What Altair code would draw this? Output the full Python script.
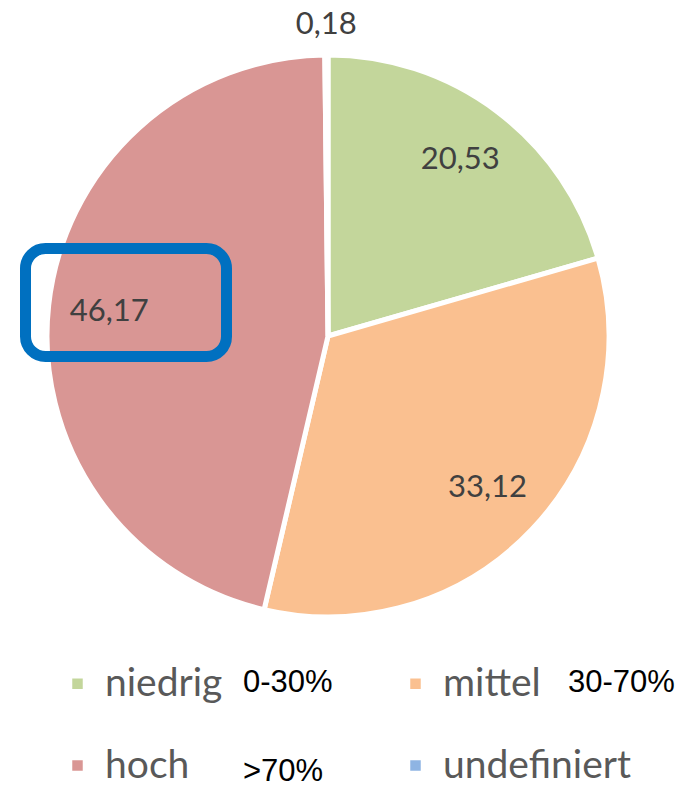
import altair as alt
import pandas as pd

categories = ["niedrig", "mittel", "hoch", "undefiniert"]
values = [20.53, 33.12, 46.17, 0.18]
colors = ["#C3D69B", "#FAC090", "#D99694", "#8EB4E3"]
range_texts = ["0-30%", "30-70%", ">70%"]

df = pd.DataFrame({"Kategorie": categories, "Wert": values, "Reihenfolge": list(range(len(categories)))})
labels = [f"{v:.2f}".replace(".", ",") for v in values]
df["innen"] = [l if v >= 1 else "" for l, v in zip(labels, values)]
df["aussen"] = [l if v < 1 else "" for l, v in zip(labels, values)]

CX, CY = 320, 328

base = alt.Chart(df).encode(
    theta=alt.Theta("Wert:Q", stack=True),
    order=alt.Order("Reihenfolge:Q"),
)

arcs = base.mark_arc(outerRadius=281, stroke="white", strokeWidth=5).encode(
    x=alt.value(CX),
    y=alt.value(CY),
    color=alt.Color(
        "Kategorie:N",
        scale=alt.Scale(domain=categories, range=colors),
        sort=categories,
        legend=alt.Legend(
            title=None,
            orient="none",
            direction="horizontal",
            legendX=50,
            legendY=656,
            columns=2,
            padding=0,
            symbolType="square",
            symbolSize=110,
            symbolStrokeWidth=0,
            labelFont="Lato",
            labelFontSize=39,
            labelColor="#595959",
            labelOffset=8,
            columnPadding=173,
            rowPadding=42,
            labelLimit=400,
        ),
    ),
)

inner_text = base.mark_text(radius=220, font="Lato", fontSize=31, color="#404040").encode(
    x=alt.value(CX), y=alt.value(CY), text="innen:N"
)
outer_text = base.mark_text(radius=311, font="Lato", fontSize=31, color="#404040").encode(
    x=alt.value(CX), y=alt.value(CY), text="aussen:N"
)

ann_pos = [(235, 675), (560, 675), (235, 764)]
ann_layers = []
for txt, (ax, ay) in zip(range_texts, ann_pos):
    ann_layers.append(
        alt.Chart(pd.DataFrame({"t": [txt]}))
        .mark_text(align="left", baseline="middle", font="Liberation Sans", fontSize=31, color="black")
        .encode(text="t:N", x=alt.value(ax), y=alt.value(ay))
    )

box = alt.Chart(pd.DataFrame({"k": [0]})).mark_rect(
    filled=False, stroke="#0070C0", strokeWidth=11, cornerRadius=20
).encode(x=alt.value(17.5), x2=alt.value(218.5), y=alt.value(240.5), y2=alt.value(348.5))

chart = alt.layer(arcs, inner_text, outer_text, *ann_layers, box).properties(
    width=673, height=778, autosize="none", padding=0
).configure_view(stroke=None)

chart.save("out.html", embed_options={"renderer": "svg", "actions": False})
